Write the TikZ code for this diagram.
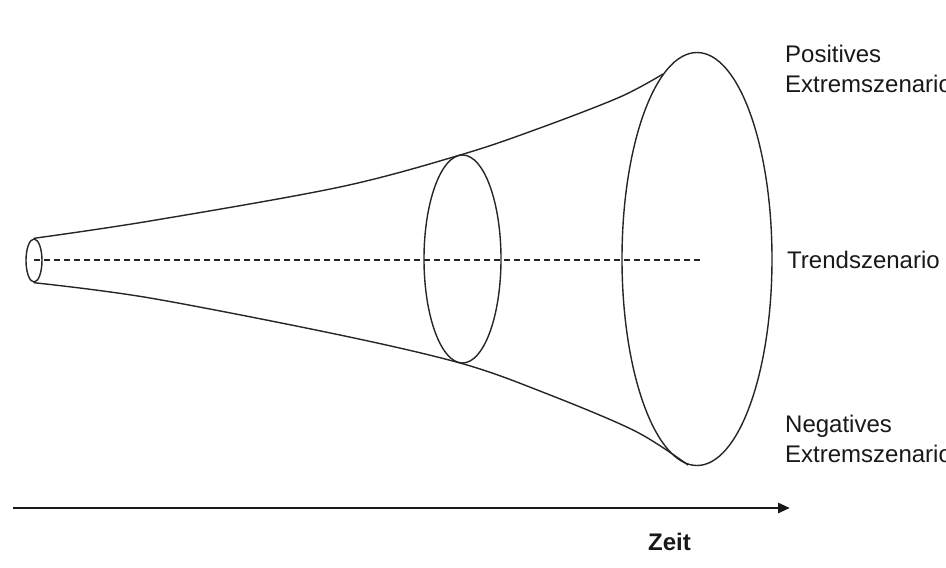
\documentclass[tikz,border=0pt]{standalone}
\usepackage{fontspec}
\setmainfont{Liberation Sans}
\usetikzlibrary{shapes.geometric,arrows.meta}
\begin{document}
\begin{tikzpicture}[x=1pt,y=-1pt,
  ring/.style={draw=black!85, line width=1.4pt, ellipse, inner sep=0pt, fill=none},
  curve/.style={draw=black!85, line width=1.4pt},
  trend/.style={draw=black!85, line width=1.1pt, dash pattern=on 6pt off 4pt},
  axis/.style={draw=black!90, line width=2.8pt, -{Triangle[length=12pt,width=10pt]}},
  lbl/.style={font=\fontsize{24}{30}\selectfont, text=black!90, inner sep=0pt, align=left},
]
\useasboundingbox (0,0) rectangle (946,568);
\fill[white] (0,0) rectangle (946,568);

\node[ring, minimum width=16pt, minimum height=43pt] (e1) at (34,260.5) {};
\node[ring, minimum width=77pt, minimum height=208pt] (e2) at (462.5,259) {};
\node[ring, minimum width=150pt, minimum height=413pt] (e3) at (697,259) {};

\coordinate (c0) at (34,260);
\coordinate (c1) at (700,260);
\draw[trend] (c0) -- (c1);

\coordinate (up) at (663,74);
\coordinate (lo) at (688,465);
\draw[curve] plot[smooth, tension=0.55] coordinates {(e1.north) (150,221) (340,187) (e2.north) (540,128) (620,97) (up)};
\draw[curve] plot[smooth, tension=0.55] coordinates {(e1.south) (150,298) (340,335) (e2.south) (545,393) (635,431) (lo)};

\coordinate (a0) at (13,508);
\coordinate (a1) at (790,508);
\draw[axis] (a0) -- (a1);

\node[lbl, anchor=base west] (pos) at (785,92) {Positives\\Extremszenario};
\node[lbl, anchor=base west] (trd) at (787,268) {Trendszenario};
\node[lbl, anchor=base west] (neg) at (785,462) {Negatives\\Extremszenario};
\node[lbl, anchor=base west, font=\fontsize{24}{30}\selectfont\bfseries] (zeit) at (648,550) {Zeit};
\end{tikzpicture}
\end{document}
